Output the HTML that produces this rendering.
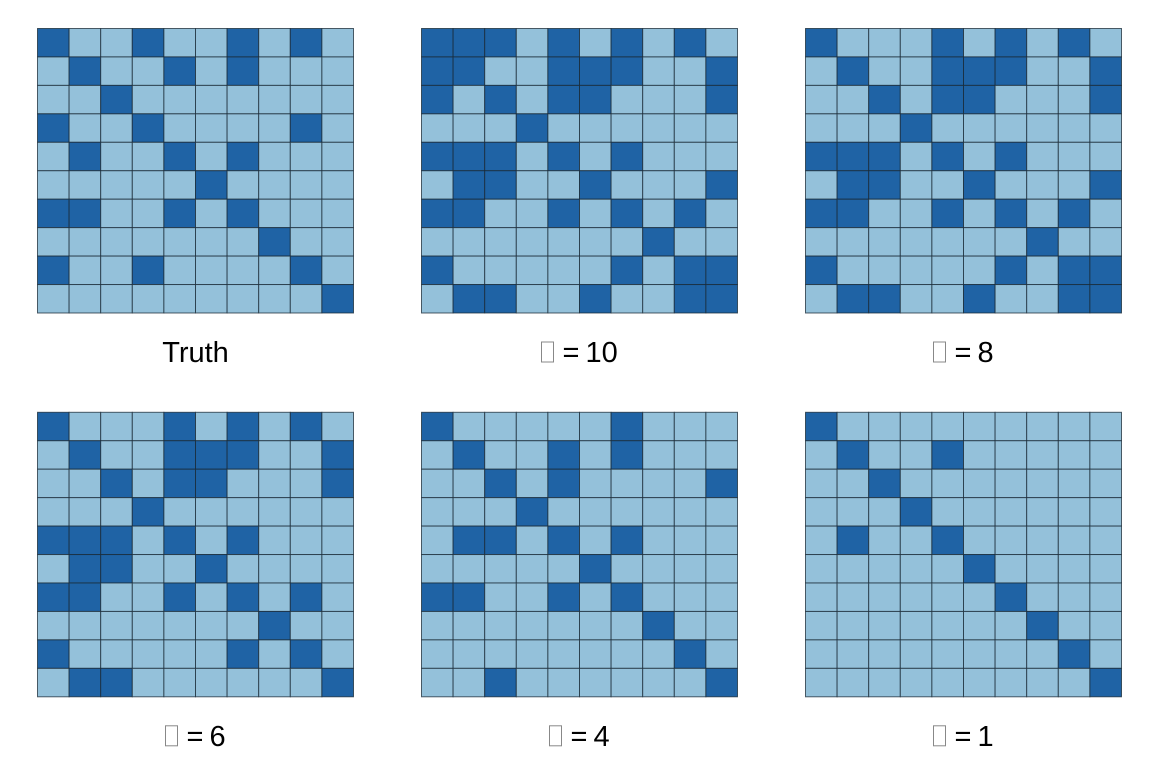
<!DOCTYPE html>
<html><head><meta charset="utf-8"><style>
body{margin:0;background:#fff;width:1152px;height:768px;overflow:hidden}
svg text{font-family:"Liberation Sans",sans-serif}
</style></head><body>
<svg id="fig" width="1152" height="768"></svg>
<script>
const panelTitles=["Truth","10","8","6","4","1"];
const gTruth=["1001001010","0100101000","0010000000","1001000010","0100101000","0000010000","1100101000","0000000100","1001000010","0000000001"];
const gL10=["1110101010","1100111001","1010110001","0001000000","1110101000","0110010001","1100101010","0000000100","1000001011","0110010011"];
const gL8=["1000101010","0100111001","0010110001","0001000000","1110101000","0110010001","1100101010","0000000100","1000001011","0110010011"];
const gL6=["1000101010","0100111001","0010110001","0001000000","1110101000","0110010000","1100101010","0000000100","1000001010","0110000001"];
const gL4=["1000001000","0100101000","0010100001","0001000000","0110101000","0000010000","1100101000","0000000100","0000000010","0010000001"];
const gL1=["1000000000","0100100000","0010000000","0001000000","0100100000","0000010000","0000001000","0000000100","0000000010","0000000001"];
const grids=[gTruth,gL10,gL8,gL6,gL4,gL1];
const NS="http://www.w3.org/2000/svg";
const svg=document.getElementById('fig');
const lefts=[37.5,421.5,805.5], tops=[28.5,412.3], W=316, H=284.5;
grids.forEach((g,k)=>{
  const x0=lefts[k%3], y0=tops[Math.floor(k/3)];
  const grp=document.createElementNS(NS,'g');
  
  
  svg.appendChild(grp);
  const cw=W/10,ch=H/10;
  g.forEach((row,i)=>{for(let j=0;j<10;j++){
    const r=document.createElementNS(NS,'rect');
    r.setAttribute('x',x0+j*cw);r.setAttribute('y',y0+i*ch);
    r.setAttribute('width',cw);r.setAttribute('height',ch);
    r.setAttribute('fill',row[j]==='1'?'#1f63a5':'#94c1da');
    r.setAttribute('stroke','#1a2a36');r.setAttribute('stroke-opacity','0.75');r.setAttribute('stroke-width','1');
    
    
    grp.appendChild(r);
  }});
  const cx=x0+W/2, ty=y0+H+49;
  if(k===0){
    const t=document.createElementNS(NS,'text');
    t.setAttribute('y',ty);t.setAttribute('font-size','29');t.setAttribute('fill','#000');
    
    
    t.setAttribute('x',cx);t.setAttribute('text-anchor','middle');t.textContent='Truth';grp.appendChild(t);
  } else {
    const numW=panelTitles[k].length*16;
    const total=12+9+15+8+numW;
    const bx=cx-total/2;
    const b=document.createElementNS(NS,'rect');
    b.setAttribute('x',bx);b.setAttribute('y',ty-20);b.setAttribute('width',12);b.setAttribute('height',20);
    b.setAttribute('fill','none');b.setAttribute('stroke','#888');b.setAttribute('stroke-width','1');
    
    
    grp.appendChild(b);
    const e=document.createElementNS(NS,'text');
    e.setAttribute('x',bx+21);e.setAttribute('y',ty);e.setAttribute('font-size','29');
    
    
    e.textContent='=';grp.appendChild(e);
    const n=document.createElementNS(NS,'text');
    n.setAttribute('x',bx+44);n.setAttribute('y',ty);n.setAttribute('font-size','29');
    
    
    n.textContent=panelTitles[k];grp.appendChild(n);
  }
});
</script>
</body></html>
